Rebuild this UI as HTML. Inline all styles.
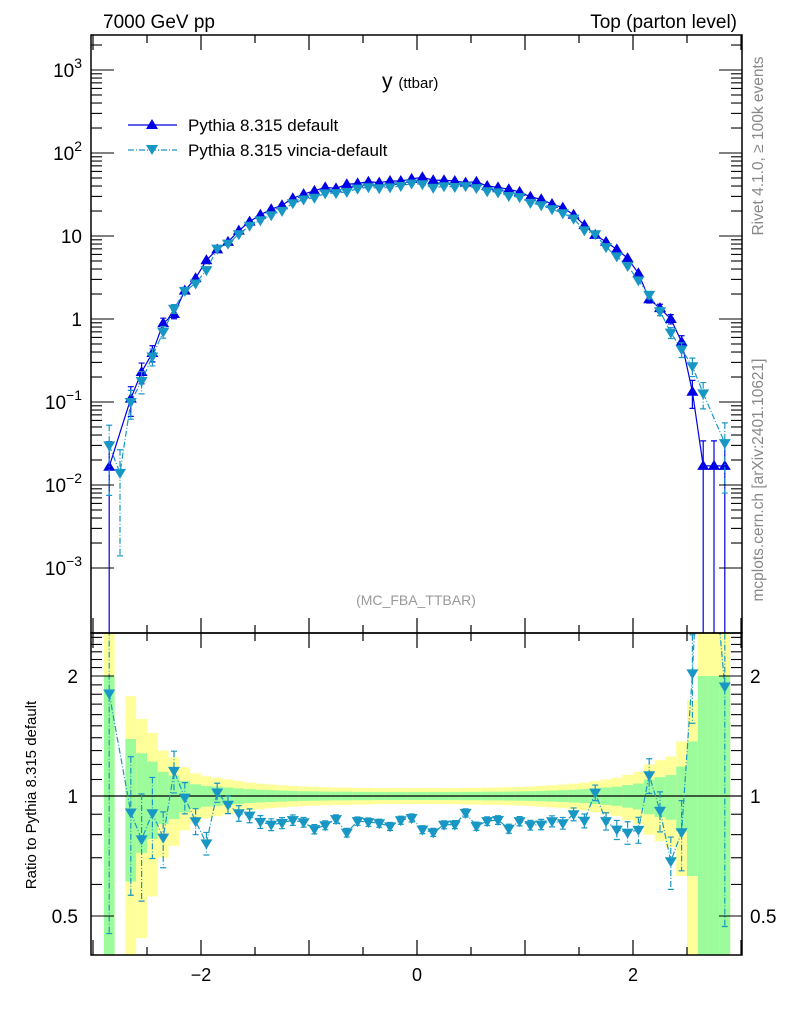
<!DOCTYPE html>
<html><head><meta charset="utf-8"><style>
html,body{margin:0;padding:0;background:#fff;width:786px;height:1024px;overflow:hidden;}
svg{display:block;font-family:"Liberation Sans",Arial,sans-serif;}
</style></head><body>
<svg id="chart" width="786" height="1024" viewBox="0 0 786 1024" xmlns="http://www.w3.org/2000/svg" overflow="hidden">
<defs>
<clipPath id="clipMain"><rect x="91" y="35" width="651" height="598"/></clipPath>
<clipPath id="clipRatio"><rect x="91" y="633" width="651" height="322"/></clipPath>
</defs>
<g id="bands" clip-path="url(#clipRatio)"></g>
<g id="mainMarks" clip-path="url(#clipMain)"></g>
<g id="ratioMarks" clip-path="url(#clipRatio)"></g>
<g id="axes"></g>
<text x="103" y="28" font-size="19">7000 GeV pp</text>
<text x="737" y="28" font-size="19" text-anchor="end">Top (parton level)</text>
<text x="382" y="88" font-size="21">y <tspan font-size="15">(ttbar)</tspan></text>
<g>
 <g>
  <line x1="128" y1="125" x2="177" y2="125" stroke="#0000e6" stroke-width="1.3"/>
  <path d="M152,119 L158,129 L146,129 Z" fill="#0000e6"/>
  <text x="188" y="131" font-size="17">Pythia 8.315 default</text>
 </g>
 <g>
  <line x1="128" y1="150" x2="177" y2="150" stroke="#1897c4" stroke-width="1.3" stroke-dasharray="6,2,1,2"/>
  <path d="M146,145 L158,145 L152,155 Z" fill="#1897c4"/>
  <text x="188" y="156" font-size="17">Pythia 8.315 vincia-default</text>
 </g>
</g>
<text x="416" y="605" font-size="14" fill="#999" text-anchor="middle">(MC_FBA_TTBAR)</text>
<text transform="translate(763,146) rotate(-90)" font-size="15.5" fill="#888" text-anchor="middle">Rivet 4.1.0, ≥ 100k events</text>
<text transform="translate(763,480) rotate(-90)" font-size="15.5" fill="#888" text-anchor="middle">mcplots.cern.ch [arXiv:2401.10621]</text>
<text transform="translate(36,795) rotate(-90)" font-size="15" text-anchor="middle">Ratio to Pythia 8.315 default</text>
</svg>
<script>
const binCenters = [-2.85,-2.75,-2.65,-2.55,-2.45,-2.35,-2.25,-2.15,-2.05,-1.95,-1.85,-1.75,-1.65,-1.55,-1.45,-1.35,-1.25,-1.15,-1.05,-0.95,-0.85,-0.75,-0.65,-0.55,-0.45,-0.35,-0.25,-0.15,-0.05,
0.05,0.15,0.25,0.35,0.45,0.55,0.65,0.75,0.85,0.95,1.05,1.15,1.25,1.35,1.45,1.55,1.65,1.75,1.85,1.95,2.05,2.15,2.25,2.35,2.45,2.55,2.65,2.75,2.85];
const defaultVals = [0.0166,0,0.11,0.23,0.39,0.89,1.15,2.2,3.1,5.1,6.9,8.5,11.6,14.9,18,21,23.5,28.5,32,35,38.6,37.5,42,43,45,44,46,46,48.7,
51,47,47,46,44,45,40,38.6,36.6,34,29.7,27.7,24.3,22,18,13.5,10.3,8.5,6.9,5.4,3.55,1.73,1.35,1.0,0.53,0.133,0.017,0.017,0.017];
const vinciaVals = [0.030,0.014,0.10,0.179,0.353,0.70,1.33,2.18,2.68,3.88,7.04,8.08,10.5,13.3,15.5,17.8,20.1,24.8,27.5,28.9,32.6,32.8,34.0,37.2,38.7,37.6,38.6,40.0,42.9,
42.0,38.1,39.8,39.0,39.9,37.8,34.6,33.6,30.3,29.4,25.1,23.5,21.0,18.8,16.2,11.7,10.5,7.35,5.68,4.37,2.92,1.95,1.24,0.686,0.43,0.27,0.127,0,0.032];
const defaultRelErr = [1,0,0.39,0.28,0.22,0.15,0.125,0.09,0.07,0.06,0.055,0.05,0.045,0.04,0.037,0.034,0.032,0.03,0.028,0.027,0.026,0.025,0.025,0.024,0.024,0.023,0.023,0.023,0.023,
0.023,0.023,0.023,0.023,0.024,0.024,0.025,0.025,0.026,0.027,0.028,0.03,0.032,0.034,0.037,0.04,0.045,0.05,0.055,0.065,0.075,0.1,0.115,0.128,0.185,0.37,1,1,1];
const vinciaRelErr = [0.75,0.9,0.38,0.3,0.23,0.16,0.12,0.09,0.075,0.065,0.055,0.05,0.045,0.04,0.037,0.034,0.032,0.03,0.028,0.027,0.026,0.025,0.025,0.024,0.024,0.023,0.023,0.023,0.023,
0.023,0.023,0.023,0.023,0.024,0.024,0.025,0.025,0.026,0.027,0.028,0.03,0.032,0.034,0.037,0.04,0.045,0.05,0.055,0.065,0.075,0.1,0.115,0.15,0.2,0.25,0.35,0,0.75];
const xTicks = [-2,0,2];
const mainYExps = [-3,-2,-1,0,1,2,3];
const ratioTicks = [0.5,1,2];

const NS='http://www.w3.org/2000/svg';
const L=91,R=742,T=35,MB=633,RB=955;
const BW=0.1;
function X(v){return 417+108*v;}
function Ym(v){return 319-83*Math.log10(v);}
function Yr(r){return 796-120*Math.log2(r);}
function mk(tag,attrs,parent){const e=document.createElementNS(NS,tag);for(const k in attrs)e.setAttribute(k,attrs[k]);parent.appendChild(e);return e;}
const DEF='#0000e6',VIN='#1897c4';
const bands=document.getElementById('bands'),mainG=document.getElementById('mainMarks'),ratioG=document.getElementById('ratioMarks'),axes=document.getElementById('axes');

binCenters.forEach((c,i)=>{
  const e=defaultRelErr[i]; if(defaultVals[i]<=0) return;
  const x0=X(c-BW/2),w=X(c+BW/2)-x0;
  const yt=Yr(1+2*e), yb=(1-2*e)>0?Math.min(Yr(1-2*e),RB):RB;
  const y1=mk('rect',{x:x0,y:yt,width:w,height:yb-yt,fill:'#ffff99'},bands);
  
  
  const gt=Yr(1+e), gb=(1-e)>0?Math.min(Yr(1-e),RB):RB;
  const g1=mk('rect',{x:x0,y:gt,width:w,height:gb-gt,fill:'#9cfc9c'},bands);
  
  
});
const refLine=mk('line',{x1:L,y1:Yr(1),x2:R,y2:Yr(1),stroke:'#000','stroke-width':1.2},ratioG);



function tri(g,x,y,up,col){
  const d=up?`M${x},${y-6} L${x+6},${y+4} L${x-6},${y+4} Z`:`M${x-6},${y-4} L${x+6},${y-4} L${x},${y+6} Z`;
  return mk('path',{d:d,fill:col},g);
}
function series(g,vals,errs,yf,col,up,dash,name,ybot){
  let pts=[];
  vals.forEach((v,i)=>{ if(v>0) pts.push([X(binCenters[i]),yf(v),v,errs[i]]); });
  const pl=mk('polyline',{points:pts.map(p=>p[0]+','+p[1]).join(' '),fill:'none',stroke:col,'stroke-width':1.2},g);
  if(dash) pl.setAttribute('stroke-dasharray',dash);
  
  
  pts.forEach(p=>{
    const [x,y,v,e]=p;
    const top=Math.max(yf(v*(1+e)),0), bot=(1-e)>0.0001?Math.min(yf(v*(1-e)),ybot+2):ybot+2;
    if(bot-top>6){
      const eb=mk('path',{d:`M${x},${top} L${x},${bot} M${x-3},${top} L${x+3},${top} M${x-3},${bot} L${x+3},${bot}`,stroke:col,'stroke-width':1.2,fill:'none'},g);
      if(dash) eb.setAttribute('stroke-dasharray',dash);
      
      
    }
    const m=tri(g,x,y,up,col);
    
    
  });
}
series(mainG,defaultVals,defaultRelErr,Ym,DEF,true,null,'default',MB);
series(mainG,vinciaVals,vinciaRelErr,Ym,VIN,false,'6,2,1,2','vincia',MB);
const ratioVals=vinciaVals.map((v,i)=>defaultVals[i]>0&&v>0?v/defaultVals[i]:0);
series(ratioG,ratioVals,vinciaRelErr,Yr,VIN,false,'6,2,1,2','vincia-ratio',RB);

[[T,MB],[MB,RB]].forEach(([a,b],k)=>{
  const f=mk('rect',{x:L,y:a,width:R-L,height:b-a,fill:'none',stroke:'#000','stroke-width':1.5},axes);
  
  
});
for(let v=-3;v<=3.001;v+=0.5){
  const x=X(v); if(x<L+1||x>R-1) continue;
  const major=Math.abs(v-Math.round(v))<0.01;
  const len=major?15:8;
  [[T,1],[MB,-1],[MB,1],[RB,-1]].forEach(([y,s])=>{
    const t=mk('line',{x1:x,y1:y,x2:x,y2:y+s*len,stroke:'#000','stroke-width':1.2},axes);
    
    
  });
}
xTicks.forEach(v=>{
  const t=mk('text',{x:X(v),y:981,'font-size':18,'text-anchor':'middle'},axes);
  t.textContent=v<0?'\u2212'+Math.abs(v):String(v);
  
  
});
mainYExps.forEach(ex=>{
  for(let m=1;m<=9;m++){
    const v=m*Math.pow(10,ex), y=Ym(v);
    if(y<T+1||y>MB-1) continue;
    const len=m===1?23:11;
    [[L,1],[R,-1]].forEach(([x,s])=>{
      const t=mk('line',{x1:x,y1:y,x2:x+s*len,y2:y,stroke:'#000','stroke-width':1.1},axes);
      
      
    });
  }
  const y=Ym(Math.pow(10,ex));
  const t=mk('text',{x:82,y:y+7,'font-size':19,'text-anchor':'end'},axes);
  if(ex===0) t.textContent='1';
  else if(ex===1) t.textContent='10';
  else { t.textContent='10'; const s=mk('tspan',{dy:-9,'font-size':14},t); s.textContent=ex<0?'\u2212'+(-ex):String(ex); }
  
  
});
for(let r=0.4;r<=2.55;r+=0.1){
  const y=Yr(r); if(y<MB+1||y>RB-1) continue;
  const major=[0.5,1,2].some(q=>Math.abs(q-r)<0.01);
  const len=major?23:11;
  [[L,1],[R,-1]].forEach(([x,s])=>{
    const t=mk('line',{x1:x,y1:y,x2:x+s*len,y2:y,stroke:'#000','stroke-width':1.1},axes);
    
    
  });
}
ratioTicks.forEach(r=>{
  const y=Yr(r)+7;
  const a=mk('text',{x:78,y:y,'font-size':19,'text-anchor':'end'},axes);
  a.textContent=String(r);
  
  
  const b=mk('text',{x:750,y:y,'font-size':19},axes);
  b.textContent=String(r);
  
  
});
</script>
</body></html>
